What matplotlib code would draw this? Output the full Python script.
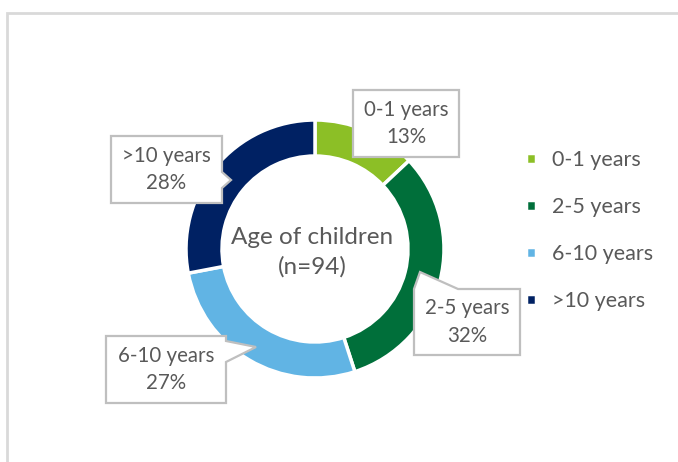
import matplotlib.pyplot as plt
from matplotlib.patches import Polygon

# age groups of children (n=94), shares in percent
groups = ["0-1 years", "2-5 years", "6-10 years", ">10 years"]
shares = [13, 32, 27, 28]
colors = ["#8CBF26", "#006F3A", "#61B4E4", "#002163"]
center_title = "Age of children\n(n=94)"

W, H = 678, 462
TXT = "#595959"
plt.rcParams['font.family'] = ['Lato', 'DejaVu Sans']

fig = plt.figure(figsize=(W / 100, H / 100), dpi=100)
ax = fig.add_axes([0, 0, 1, 1])


def py(y):
    # pixel row (top down) -> axes y
    return H - y


wedges, _ = ax.pie(shares, colors=colors, startangle=90, counterclock=False,
                   center=(315, py(249)), radius=129,
                   wedgeprops=dict(width=36, edgecolor="white", linewidth=2.5),
                   frame=True)

ax.text(312, py(252), center_title, ha="center", va="center",
        fontsize=17.5, color=TXT, linespacing=1.45)


def callout(x0, y0, x1, y1, text, side=None, base=None, tip=None):
    pts = [(x0, y0)]
    if side == "top":
        pts += [(base[0], y0), tip, (base[1], y0)]
    pts.append((x1, y0))
    if side == "right":
        pts += [(x1, base[0]), tip, (x1, base[1])]
    pts += [(x1, y1), (x0, y1)]
    pts = [(x, py(y)) for x, y in pts]
    ax.add_patch(Polygon(pts, closed=True, fc="white", ec="#BFBFBF",
                         lw=1.6, zorder=5))
    ax.text((x0 + x1) / 2, py((y0 + y1) / 2), text, ha="center", va="center",
            fontsize=14.8, color=TXT, linespacing=1.45, zorder=6)


lab = [f"{g}\n{s}%" for g, s in zip(groups, shares)]
callout(353, 90, 459, 157, lab[0])
callout(414, 289, 520, 355, lab[1], side="top", base=(414, 458), tip=(420, 272))
callout(106, 336, 226, 403, lab[2], side="right", base=(341, 362), tip=(256, 347))
callout(111, 136, 222, 203, lab[3], side="right", base=(172, 188), tip=(231, 180))

leg = ax.legend(wedges, groups, loc="upper left",
                bbox_to_anchor=(507 / W, 1 - 131 / H), frameon=False,
                fontsize=15.5, labelcolor=TXT, handlelength=0.45,
                handleheight=0.45, handletextpad=0.75, labelspacing=1.25)

# chart area border (only left and top visible)
ax.plot([7, 7, W + 5], [py(H + 5), py(13), py(13)], color="#D9D9D9", lw=2,
        solid_joinstyle="miter")

ax.set_xlim(0, W)
ax.set_ylim(0, H)
ax.set_aspect("equal")
ax.axis("off")

fig.savefig("out.png", dpi=100, facecolor="white")
